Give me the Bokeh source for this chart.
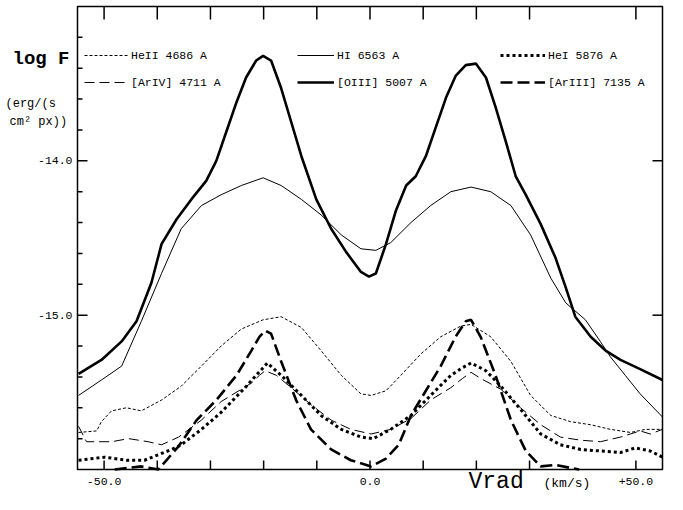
import math
from bokeh.plotting import figure
from bokeh.models import Range1d, Legend, LegendItem, Label
from bokeh.core.properties import value
from bokeh.embed import file_html
from bokeh.resources import INLINE

# ---------------- data (Vrad in km/s, log F) ----------------
v_heii = [-54.8, -51.4, -50.5, -48.6, -45.8, -43.0, -39.2, -35.5, -31.7, -28.0, -24.2, -20.1, -16.7,
          -12.9, -9.2, -5.4, -1.7, 0.2, 3.0, 5.8, 9.6, 13.3, 17.1, 19.0, 22.7, 26.5, 30.2, 34.0,
          37.7, 41.5, 45.2, 49.0, 51.8, 55.0]
f_heii = [-15.76, -15.75, -15.69, -15.62, -15.60, -15.62, -15.55, -15.46, -15.33, -15.20, -15.09, -15.03,
          -15.01, -15.08, -15.23, -15.39, -15.51, -15.52, -15.49, -15.39, -15.25, -15.14, -15.07, -15.06,
          -15.14, -15.30, -15.52, -15.65, -15.69, -15.71, -15.74, -15.76, -15.74, -15.74]

v_hi = [-54.8, -50.5, -46.7, -43.0, -39.2, -35.5, -31.7, -28.0, -24.2, -20.1, -16.7, -12.9, -9.2, -5.4,
        -1.7, 1.1, 3.9, 7.7, 11.4, 15.2, 19.0, 22.7, 26.5, 30.2, 34.0, 36.8, 40.5, 43.3, 45.2, 48.0,
        50.8, 55.0]
f_hi = [-15.52, -15.42, -15.33, -15.04, -14.73, -14.44, -14.29, -14.22, -14.16, -14.11, -14.16, -14.25,
        -14.35, -14.48, -14.57, -14.58, -14.53, -14.40, -14.29, -14.20, -14.17, -14.20, -14.29, -14.48,
        -14.76, -14.92, -15.03, -15.17, -15.27, -15.39, -15.51, -15.66]

v_hei = [-54.8, -49.9, -45.8, -42.4, -37.3, -35.5, -31.7, -28.0, -23.5, -21.4, -19.3, -16.7, -12.9, -9.2,
         -5.4, -1.7, 0.6, 3.9, 7.7, 11.4, 15.2, 17.4, 19.0, 21.8, 24.6, 28.3, 32.1, 35.8, 39.6, 43.3,
         47.1, 49.9, 52.7, 55.0]
f_hei = [-15.94, -15.92, -15.94, -15.94, -15.87, -15.84, -15.74, -15.63, -15.47, -15.39, -15.31, -15.39,
         -15.52, -15.65, -15.74, -15.79, -15.80, -15.74, -15.65, -15.52, -15.39, -15.34, -15.31, -15.36,
         -15.46, -15.61, -15.77, -15.84, -15.87, -15.88, -15.89, -15.86, -15.88, -15.92]

v_ariv = [-54.8, -53.3, -48.6, -45.4, -41.7, -39.2, -36.0, -31.7, -28.0, -24.2, -22.3, -20.8, -19.7,
          -17.6, -14.8, -11.1, -7.3, -3.6, 0.2, 3.9, 7.7, 11.4, 15.2, 17.4, 19.0, 20.8, 24.6, 28.3,
          32.1, 35.8, 39.6, 43.3, 47.1, 50.8, 52.7, 55.0]
f_ariv = [-15.72, -15.82, -15.82, -15.80, -15.82, -15.84, -15.79, -15.68, -15.56, -15.48, -15.44, -15.39,
          -15.36, -15.39, -15.47, -15.58, -15.68, -15.74, -15.77, -15.74, -15.67, -15.55, -15.47, -15.41,
          -15.37, -15.41, -15.48, -15.60, -15.71, -15.79, -15.81, -15.82, -15.79, -15.75, -15.77, -15.74]

v_oiii = [-54.8, -50.5, -46.7, -43.9, -41.1, -39.2, -36.4, -33.6, -30.8, -28.9, -27.0, -25.1, -23.3,
          -21.4, -20.1, -18.6, -16.7, -14.8, -12.9, -10.1, -7.3, -4.5, -1.7, -0.2, 1.1, 3.0, 4.9, 6.8,
          8.6, 10.5, 12.4, 14.3, 16.1, 18.0, 19.9, 21.8, 23.6, 25.5, 27.4, 29.3, 32.1, 34.9, 36.8,
          38.6, 41.5, 44.3, 47.1, 50.8, 55.0]
f_oiii = [-15.38, -15.29, -15.17, -15.04, -14.79, -14.54, -14.38, -14.25, -14.13, -14.00, -13.81, -13.62,
          -13.46, -13.35, -13.32, -13.35, -13.53, -13.75, -13.97, -14.25, -14.44, -14.59, -14.72, -14.75,
          -14.73, -14.54, -14.32, -14.16, -14.10, -13.97, -13.78, -13.59, -13.45, -13.38, -13.37, -13.46,
          -13.65, -13.87, -14.10, -14.22, -14.41, -14.63, -14.82, -15.01, -15.14, -15.23, -15.29, -15.35,
          -15.42]

# [ArIII] 7135: only the part inside the plot box (it runs below the box at both ends)
v_ariii = [-48.0, -43.0, -39.8, -36.0, -32.6, -28.9, -25.1, -22.3, -20.8, -19.7, -18.6,
           -16.7, -13.9, -11.1, -7.3, -3.6, 0.2, 3.0, 5.4, 7.7, 10.5, 13.3, 16.1, 18.0, 19.0, 20.8,
           23.6, 26.5, 29.3, 32.1, 34.9, 37.7, 39.3]
f_ariii = [-16.00, -15.98, -16.00, -15.85, -15.68, -15.55, -15.39, -15.23, -15.14, -15.10,
           -15.12, -15.30, -15.55, -15.74, -15.87, -15.94, -15.98, -15.93, -15.84, -15.65, -15.49, -15.33,
           -15.14, -15.04, -15.03, -15.14, -15.39, -15.68, -15.88, -15.98, -15.97, -15.99, -16.00]

names = ["HeII 4686 A", "HI 6563 A", "HeI 5876 A", "[ArIV] 4711 A", "[OIII] 5007 A", "[ArIII] 7135 A"]

# axes
x_lo, x_hi = -55.0, 55.0
y_lo, y_hi = -16.0, -13.0
y_major = [-14.0, -15.0]
y_labels = ["-14.0", "-15.0"]
y_minor = [-13.2, -13.4, -13.6, -13.8, -14.2, -14.4, -14.6, -14.8, -15.2, -15.4, -15.6, -15.8]
x_major = [-50, 0, 50]
x_labels = ["-50.0", "0.0", "+50.0"]
x_minor = [-40, -30, -20, -10, 10, 20, 30]
x_top = [-50, -40, -30, -20, -10, 0, 10, 20, 30, 50]

FONT = "Liberation Mono"

# ---------------- layout (pixels) ----------------
W, H = 667, 494
BOX_L, BOX_R, BOX_T, BOX_B = 77, 662, 6, 469
xs = (x_hi - x_lo) / (BOX_R - BOX_L)
ys = (y_hi - y_lo) / (BOX_B - BOX_T)
xr = Range1d(x_lo - BOX_L * xs, x_hi + (W - BOX_R) * xs)
yr = Range1d(y_lo - (H - BOX_B) * ys, y_hi + BOX_T * ys)

p = figure(width=W, height=H, output_backend="svg", toolbar_location=None,
           x_range=xr, y_range=yr, x_axis_type=None, y_axis_type=None,
           min_border=0, min_border_left=0, min_border_right=0,
           min_border_top=0, min_border_bottom=0)
p.outline_line_color = None
p.background_fill_color = "white"
p.border_fill_color = "white"

# plot box
p.quad(left=[x_lo], right=[x_hi], bottom=[y_lo], top=[y_hi],
       fill_color=None, line_color="black", line_width=1.5)

# inward ticks
TK = dict(line_color="black", line_width=1.5, length_units="screen")
p.ray(x=[x_lo] * len(y_major), y=y_major, length=10, angle=0, **TK)
p.ray(x=[x_lo] * len(y_minor), y=y_minor, length=5, angle=0, **TK)
p.ray(x=[x_hi] * len(y_major), y=y_major, length=10, angle=math.pi, **TK)
p.ray(x=x_major + x_minor, y=[y_lo] * (len(x_major) + len(x_minor)), length=9,
      angle=math.pi / 2, **TK)
p.ray(x=x_top, y=[y_hi] * len(x_top), length=13, angle=-math.pi / 2, **TK)

# tick labels
p.text(x=[x_lo] * len(y_major), y=y_major, text=y_labels, x_offset=-5,
       text_font=value(FONT), text_font_size="11.5px", text_color="black",
       text_align="right", text_baseline="middle")
p.text(x=x_major, y=[y_lo] * len(x_major), text=x_labels, y_offset=8,
       text_font=value(FONT), text_font_size="11.5px", text_color="black",
       text_align="center", text_baseline="top")

# ---------------- lines ----------------
r_heii = p.line(v_heii, f_heii, line_color="black", line_width=1, line_dash="3 2")
r_hi = p.line(v_hi, f_hi, line_color="black", line_width=1)
r_hei = p.line(v_hei, f_hei, line_color="black", line_width=3, line_dash="3 3")
r_ariv = p.line(v_ariv, f_ariv, line_color="black", line_width=1, line_dash="10 5")
r_oiii = p.line(v_oiii, f_oiii, line_color="black", line_width=2.6)
r_ariii = p.line(v_ariii, f_ariii, line_color="black", line_width=2.6, line_dash="12 5")

renderers = [r_heii, r_hi, r_hei, r_ariv, r_oiii, r_ariii]

# three legend columns, two rows each
col_x = [84, 297, 500]
col_gw = [44, 37, 45]
for c in range(3):
    items = [LegendItem(label=names[c], renderers=[renderers[c]]),
             LegendItem(label=names[c + 3], renderers=[renderers[c + 3]])]
    lg = Legend(items=items, location=(col_x[c], H - 92), padding=0, margin=0, spacing=7,
                glyph_width=col_gw[c], glyph_height=20, label_height=20, label_standoff=3,
                label_text_font=FONT, label_text_font_size="11.5px", label_text_color="black",
                border_line_color=None, background_fill_alpha=0)
    p.add_layout(lg)


# ---------------- free texts (screen units; sy counted from the top) ----------------
def add_text(txt, sx, sy, size, style="normal"):
    p.add_layout(Label(x=sx, y=H - sy, x_units="screen", y_units="screen", text=txt,
                       text_font=FONT, text_font_size=size, text_font_style=style,
                       text_color="black", text_baseline="middle", text_align="left"))


add_text("log F", 12, 58, "19px", style="bold")
add_text("(erg/(s", 5, 103, "12px")
add_text("cm\u00b2 px))", 9, 121, "12px")
add_text("Vrad", 468, 481, "23px")
add_text("(km/s)", 543, 483, "13px")

open("out.html", "w").write(file_html(p, INLINE))
